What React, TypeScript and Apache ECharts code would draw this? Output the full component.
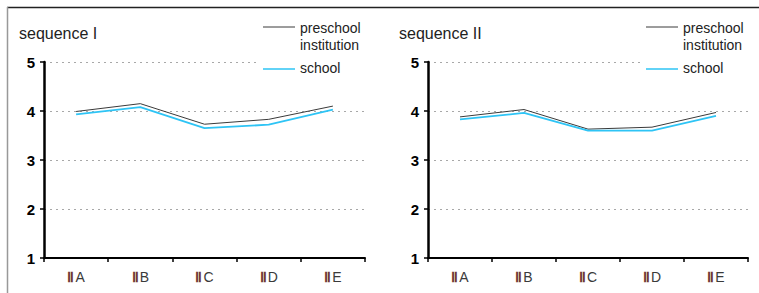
import React, { useEffect, useRef } from "react";
import * as echarts from "echarts";

const categories = ["A", "B", "C", "D", "E"];
const romanPrefix = "Ⅱ";
const yTicks = [1, 2, 3, 4, 5];
const panelTitles = ["sequence I", "sequence II"];
const seriesNames = ["preschool\ninstitution", "school"];

const seq1Preschool = [3.99, 4.15, 3.73, 3.83, 4.1];
const seq1School = [3.93, 4.08, 3.65, 3.72, 4.03];
const seq2Preschool = [3.88, 4.03, 3.63, 3.67, 3.97];
const seq2School = [3.83, 3.96, 3.6, 3.6, 3.9];

const FONT = "'Liberation Sans', Arial, sans-serif";
const PRE_COLOR = "#3a3a3a";
const SCHOOL_COLOR = "#2ec4f5";

export default function App() {
  const ref = useRef<HTMLDivElement>(null);
  useEffect(() => {
    if (!ref.current) return;
    const chart = echarts.init(ref.current, undefined, { renderer: "svg" });
    const grids = [
      { left: 44, top: 62, width: 321, height: 196 },
      { left: 428, top: 62, width: 320, height: 196 },
    ];
    const xAxes = grids.map((_, i) => ({
      type: "category" as const,
      gridIndex: i,
      data: categories.map((c) => `{r|${romanPrefix}}{c|${c}}`),
      boundaryGap: true,
      axisLine: { lineStyle: { color: "#000", width: 2 } },
      axisTick: { show: true, length: 4, interval: 0, lineStyle: { color: "#000", width: 1.5 } },
      axisLabel: {
        interval: 0,
        margin: 12,
        fontFamily: FONT,
        fontSize: 14,
        rich: {
          r: { color: "#6e3a30", fontFamily: FONT, fontSize: 14, fontWeight: "bold", padding: [0, 1, 0, 0] },
          c: { color: "#3a3a3a", fontFamily: FONT, fontSize: 14 },
        },
        formatter: (v: string) => v,
      },
      splitLine: { show: false },
    }));
    const yAxes = grids.map((_, i) => ({
      type: "value" as const,
      gridIndex: i,
      min: yTicks[0],
      max: yTicks[yTicks.length - 1],
      interval: 1,
      axisLine: { show: true, lineStyle: { color: "#000", width: 2.5 } },
      axisTick: { show: true, length: 4, lineStyle: { color: "#000", width: 1.5 } },
      axisLabel: {
        margin: 9,
        color: "#000",
        fontWeight: "bold",
        fontSize: 15,
        fontFamily: FONT,
      },
      splitLine: {
        show: true,
        lineStyle: { color: "#a8a8a8", type: [2, 4], width: 1 },
      },
    }));
    const mkSeries = (name: string, data: number[], idx: number, color: string, width: number) => ({
      name,
      type: "line" as const,
      xAxisIndex: idx,
      yAxisIndex: idx,
      data,
      symbol: "none",
      lineStyle: { color, width },
      itemStyle: { color },
      z: 5,
    });
    const legendGraphic = (x0: number) => [
      {
        type: "rect",
        shape: { x: x0 - 6, y: 52, width: 110, height: 24 },
        style: { fill: "#fff" },
        z: 50,
      },
      {
        type: "line",
        shape: { x1: x0, y1: 27, x2: x0 + 32, y2: 27 },
        style: { stroke: PRE_COLOR, lineWidth: 1 },
        z: 51,
      },
      {
        type: "text",
        x: x0 + 37,
        y: 19,
        style: {
          text: seriesNames[0],
          fill: "#222",
          font: `14px ${FONT}`,
          lineHeight: 17,
        },
        z: 51,
      },
      {
        type: "line",
        shape: { x1: x0, y1: 69, x2: x0 + 32, y2: 69 },
        style: { stroke: SCHOOL_COLOR, lineWidth: 1.5 },
        z: 51,
      },
      {
        type: "text",
        x: x0 + 37,
        y: 61,
        style: { text: seriesNames[1], fill: "#222", font: `14px ${FONT}` },
        z: 51,
      },
    ];
    chart.setOption({
      animation: false,
      backgroundColor: "#fff",
      title: panelTitles.map((t, i) => ({
        text: t,
        left: i === 0 ? 14 : 394,
        top: 20,
        textStyle: { fontFamily: FONT, fontSize: 16, fontWeight: "normal", color: "#222" },
      })),
      grid: grids,
      xAxis: xAxes,
      yAxis: yAxes,
      series: [
        mkSeries("preschool institution", seq1Preschool, 0, PRE_COLOR, 1),
        mkSeries("school", seq1School, 0, SCHOOL_COLOR, 1.8),
        mkSeries("preschool institution", seq2Preschool, 1, PRE_COLOR, 1),
        mkSeries("school", seq2School, 1, SCHOOL_COLOR, 1.8),
      ],
      graphic: [
        {
          type: "line",
          shape: { x1: 7, y1: 7.5, x2: 759, y2: 7.5 },
          style: { stroke: "#222", lineWidth: 1.5 },
          z: 60,
        },
        {
          type: "line",
          shape: { x1: 7.5, y1: 7, x2: 7.5, y2: 293 },
          style: { stroke: "#999", lineWidth: 1.5 },
          z: 60,
        },
        ...legendGraphic(263),
        ...legendGraphic(646),
      ],
    });
    return () => chart.dispose();
  }, []);
  return (
    <div
      ref={ref}
      style={{ position: "fixed", left: 0, top: 0, width: 759, height: 293 }}
    />
  );
}
